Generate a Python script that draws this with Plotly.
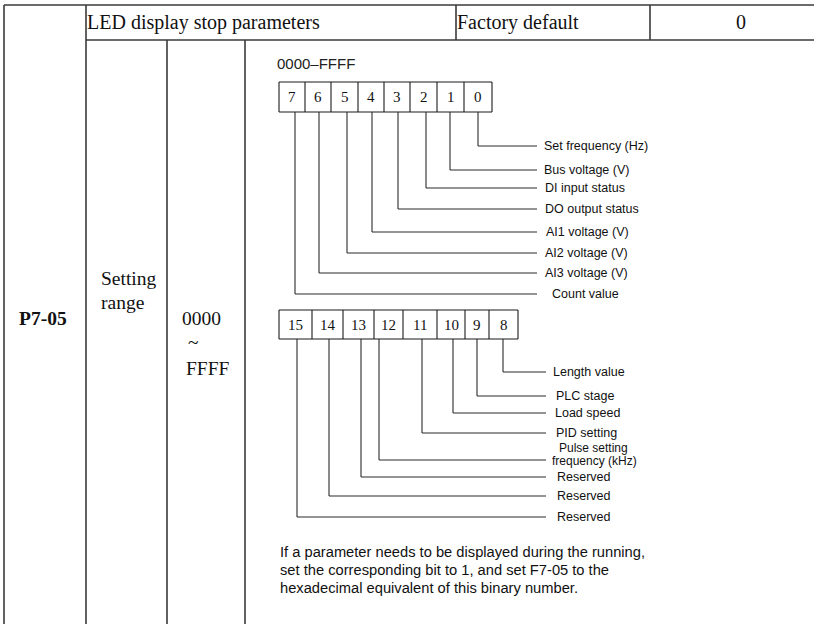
import plotly.graph_objects as go

# ---------------- content (data) ----------------
param_code = "P7-05"
header_name = "LED display stop parameters"
header_default_label = "Factory default"
header_default_value = "0"
range_label = ["Setting", "range"]
range_values = ["0000", "~", "FFFF"]
diagram_title = "0000–FFFF"

bits_low = ["7", "6", "5", "4", "3", "2", "1", "0"]
labels_low = ["Count value", "AI3 voltage (V)", "AI2 voltage (V)", "AI1 voltage (V)",
              "DO output status", "DI input status", "Bus voltage (V)", "Set frequency (Hz)"]

bits_high = ["15", "14", "13", "12", "11", "10", "9", "8"]
labels_high = ["Reserved", "Reserved", "Reserved", ["Pulse setting", "frequency (kHz)"],
               "PID setting", "Load speed", "PLC stage", "Length value"]

note_lines = [
    "If a parameter needs to be displayed during the running,",
    "set the corresponding bit to 1, and set F7-05 to the",
    "hexadecimal equivalent of this binary number.",
]

# ---------------- layout geometry (pixels) ----------------
W, H = 814, 624
SERIF = "Liberation Serif, Times New Roman, serif"
SANS = "Liberation Sans, Arial, sans-serif"
TABLE_C = "#3a3a3a"
LINE_C = "#2a2a2a"

low_edges = [279, 305, 331, 358, 384, 410, 437, 464, 492]
low_box_y = (82, 112)
low_lead_x = [295, 319, 347, 372, 398, 426, 450, 478]
low_lead_y = [294, 273, 253, 232, 209, 188, 170, 146]
low_end_x = 537
low_label_x = [552, 545, 545, 546, 545, 545, 544, 544]

high_edges = [279, 312, 343, 374, 403, 437, 465, 489, 518]
high_box_y = (310, 339)
high_lead_x = [297, 329, 361, 379, 422, 453, 477, 503]
high_lead_y = [517, 496, 477, 460, 433, 413, 396, 372]
high_end_x = 546
high_label_x = [557, 557, 557, None, 556, 555, 556, 553]

fig = go.Figure()


def seg_trace(segs, color, width):
    xs, ys = [], []
    for (x0, y0, x1, y1) in segs:
        xs += [x0, x1, None]
        ys += [y0, y1, None]
    fig.add_trace(go.Scatter(x=xs, y=ys, mode="lines",
                             line=dict(color=color, width=width),
                             hoverinfo="skip", showlegend=False))


# table grid
table = [
    (4, 5, W, 5),          # top
    (86, 40, W, 40),       # header bottom
    (4, 5, 4, H),          # left
    (86, 5, 86, H),
    (167, 40, 167, H),
    (245, 40, 245, H),
    (456, 5, 456, 40),
    (650, 5, 650, 40),
]
seg_trace(table, TABLE_C, 1.6)

# bit boxes
boxes = []
for edges, (yt, yb) in [(low_edges, low_box_y), (high_edges, high_box_y)]:
    boxes.append((edges[0], yt, edges[-1], yt))
    boxes.append((edges[0], yb, edges[-1], yb))
    for e in edges:
        boxes.append((e, yt, e, yb))
seg_trace(boxes, "#1a1a1a", 1.1)

# leader lines
leads = []
for xs, ys, yb, xe in [(low_lead_x, low_lead_y, low_box_y[1], low_end_x),
                       (high_lead_x, high_lead_y, high_box_y[1], high_end_x)]:
    for x, y in zip(xs, ys):
        leads.append((x, yb, x, y))
        leads.append((x, y, xe, y))
seg_trace(leads, LINE_C, 1.1)

ann = []


def text(x, y, s, size, family=SANS, xanchor="left", bold=False, color="#111"):
    ann.append(dict(x=x, y=y, xref="x", yref="y", text=("<b>%s</b>" % s) if bold else s,
                    showarrow=False, xanchor=xanchor, yanchor="middle",
                    font=dict(family=family, size=size, color=color)))


# header texts
text(85, 22, header_name, 20, SERIF)
text(455, 22, header_default_label, 20, SERIF)
text(734, 22, header_default_value, 20, SERIF)

# left columns
text(17, 318, param_code, 19.5, SERIF, bold=True)
text(99, 278, range_label[0], 19.5, SERIF)
text(99, 302, range_label[1], 19.5, SERIF)
text(180, 318, range_values[0], 19.5, SERIF)
text(186, 342, range_values[1], 19.5, SERIF)
text(184, 368, range_values[2], 19.5, SERIF)

# diagram title
text(275, 63, diagram_title, 15, SANS, color="#222")

# bit numbers
for edges, (yt, yb), bits in [(low_edges, low_box_y, bits_low),
                              (high_edges, high_box_y, bits_high)]:
    for i, b in enumerate(bits):
        cx = (edges[i] + edges[i + 1]) / 2
        text(cx, (yt + yb) / 2, b, 15, SERIF, xanchor="center")

# labels
for x, y, lab in zip(low_label_x, low_lead_y, labels_low):
    text(x - 2, y, lab, 12.5, SANS)
for x, y, lab in zip(high_label_x, high_lead_y, labels_high):
    if isinstance(lab, list):
        text(557, y - 12, lab[0], 12, SANS)
        text(550, y + 1, lab[1], 12, SANS)
    else:
        text(x - 2, y, lab, 12.5, SANS)

# note
for i, line in enumerate(note_lines):
    text(278, 552 + 18 * i, line, 14.7, SANS)

fig.update_layout(
    width=W, height=H,
    margin=dict(l=0, r=0, t=0, b=0),
    paper_bgcolor="white", plot_bgcolor="white",
    xaxis=dict(range=[0, W], visible=False, fixedrange=True),
    yaxis=dict(range=[H, 0], visible=False, fixedrange=True),
    annotations=ann,
    showlegend=False,
)

fig.write_html("out.html", config={"displayModeBar": False},
               post_script="document.body.style.margin='0';document.body.style.overflow='hidden';")
